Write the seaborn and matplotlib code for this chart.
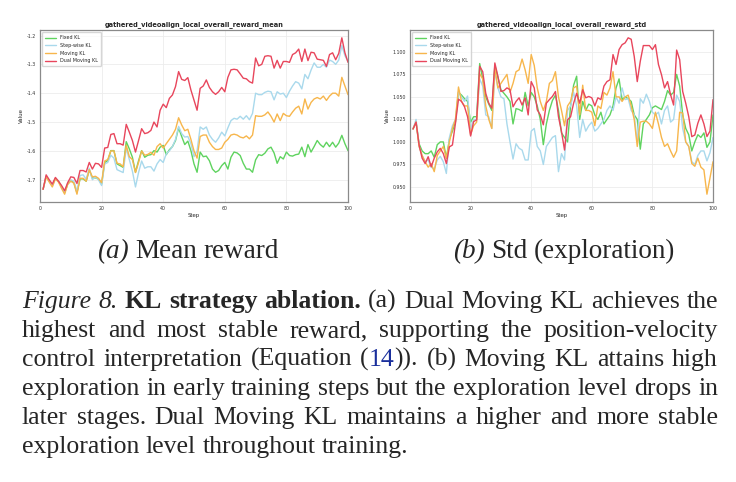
import os
import numpy as np
import pandas as pd
import matplotlib.pyplot as plt
import matplotlib.font_manager as fm
import seaborn as sns

sns.set_style("whitegrid")
plt.rcParams["axes.unicode_minus"] = False

# ---- data ----
steps = list(range(1, 101))
methods = ["Fixed KL", "Step-wise KL", "Moving KL", "Dual Moving KL"]
colors = ["#5fd35f", "#a9d9ec", "#f7b64c", "#e8465c"]

mean_fixed = [-1.733, -1.688, -1.705, -1.72, -1.695, -1.705, -1.725, -1.745, -1.715, -1.703,
              -1.71, -1.745, -1.697, -1.697, -1.705, -1.665, -1.695, -1.693, -1.698, -1.715,
              -1.64, -1.634, -1.599, -1.599, -1.645, -1.651, -1.657, -1.568, -1.593, -1.622,
              -1.674, -1.634, -1.599, -1.622, -1.615, -1.613, -1.599, -1.604, -1.587, -1.581,
              -1.613, -1.596, -1.585, -1.564, -1.52, -1.55, -1.578, -1.566, -1.599, -1.645,
              -1.674, -1.604, -1.62, -1.618, -1.634, -1.663, -1.674, -1.668, -1.651, -1.64,
              -1.663, -1.622, -1.604, -1.607, -1.616, -1.643, -1.663, -1.663, -1.674, -1.631,
              -1.613, -1.616, -1.608, -1.593, -1.587, -1.607, -1.643, -1.62, -1.628, -1.604,
              -1.616, -1.618, -1.613, -1.611, -1.587, -1.62, -1.578, -1.604, -1.585, -1.564,
              -1.578, -1.587, -1.57, -1.585, -1.57, -1.587, -1.573, -1.546, -1.575, -1.599]
mean_step = [-1.733, -1.688, -1.705, -1.72, -1.695, -1.705, -1.725, -1.745, -1.71, -1.70,
             -1.705, -1.74, -1.685, -1.683, -1.698, -1.66, -1.70, -1.69, -1.70, -1.72,
             -1.645, -1.64, -1.615, -1.625, -1.665, -1.67, -1.675, -1.59, -1.63, -1.67,
             -1.725, -1.675, -1.635, -1.66, -1.655, -1.655, -1.67, -1.645, -1.63, -1.64,
             -1.61, -1.60, -1.585, -1.56, -1.515, -1.54, -1.552, -1.55, -1.575, -1.62,
             -1.60, -1.517, -1.525, -1.517, -1.545, -1.56, -1.57, -1.555, -1.535, -1.548,
             -1.52, -1.495, -1.487, -1.49, -1.48, -1.49, -1.478, -1.492, -1.47, -1.40,
             -1.405, -1.405, -1.397, -1.393, -1.395, -1.423, -1.395, -1.403, -1.40, -1.415,
             -1.393, -1.375, -1.36, -1.365, -1.385, -1.335, -1.35, -1.32, -1.295, -1.31,
             -1.31, -1.30, -1.31, -1.285, -1.29, -1.30, -1.285, -1.235, -1.27, -1.29]
mean_moving = [-1.733, -1.69, -1.708, -1.725, -1.697, -1.708, -1.73, -1.75, -1.715, -1.705,
               -1.712, -1.75, -1.695, -1.695, -1.705, -1.665, -1.69, -1.688, -1.695, -1.71,
               -1.635, -1.63, -1.60, -1.60, -1.643, -1.645, -1.655, -1.58, -1.62, -1.63,
               -1.675, -1.64, -1.60, -1.615, -1.612, -1.605, -1.615, -1.585, -1.575, -1.59,
               -1.575, -1.56, -1.545, -1.525, -1.485, -1.51, -1.53, -1.525, -1.56, -1.60,
               -1.625, -1.55, -1.545, -1.545, -1.57, -1.585, -1.595, -1.595, -1.59, -1.57,
               -1.56, -1.545, -1.542, -1.545, -1.552, -1.555, -1.548, -1.558, -1.545, -1.478,
               -1.48, -1.48, -1.475, -1.465, -1.48, -1.50, -1.472, -1.495, -1.47, -1.478,
               -1.48, -1.465, -1.452, -1.445, -1.472, -1.42, -1.455, -1.432, -1.42, -1.415,
               -1.42, -1.41, -1.425, -1.41, -1.40, -1.40, -1.41, -1.345, -1.375, -1.405]
mean_dual = [-1.733, -1.683, -1.70, -1.715, -1.692, -1.705, -1.72, -1.738, -1.71, -1.69,
             -1.692, -1.713, -1.668, -1.668, -1.673, -1.64, -1.663, -1.643, -1.645, -1.657,
             -1.59, -1.588, -1.543, -1.54, -1.575, -1.575, -1.58, -1.508, -1.535, -1.564,
             -1.604, -1.564, -1.523, -1.54, -1.537, -1.529, -1.50, -1.517, -1.459, -1.438,
             -1.45, -1.418, -1.406, -1.377, -1.325, -1.352, -1.356, -1.346, -1.389, -1.424,
             -1.459, -1.383, -1.375, -1.354, -1.38, -1.395, -1.404, -1.395, -1.38, -1.395,
             -1.345, -1.319, -1.317, -1.319, -1.333, -1.348, -1.35, -1.36, -1.365, -1.278,
             -1.305, -1.30, -1.272, -1.27, -1.272, -1.313, -1.286, -1.313, -1.29, -1.29,
             -1.293, -1.266, -1.26, -1.247, -1.29, -1.247, -1.287, -1.258, -1.26, -1.282,
             -1.284, -1.286, -1.307, -1.266, -1.26, -1.284, -1.262, -1.208, -1.26, -1.293]

std_fixed = [1.0144, 1.022, 0.998, 0.990, 0.987, 0.987, 0.990, 0.983, 0.997, 1.000,
             1.000, 0.982, 1.003, 1.012, 1.022, 1.055, 1.052, 1.048, 1.045, 1.022,
             1.028, 1.028, 1.087, 1.070, 1.050, 1.042, 1.035, 1.085, 1.072, 1.058,
             1.054, 1.050, 1.045, 1.020, 1.037, 1.036, 1.034, 1.055, 1.040, 1.055,
             1.050, 1.040, 1.025, 0.997, 1.020, 1.035, 1.046, 1.052, 1.035, 1.010,
             1.005, 1.000, 1.040, 1.063, 1.073, 1.025, 1.045, 1.035, 1.042, 1.040,
             1.030, 1.025, 1.033, 1.020, 1.025, 1.030, 1.040, 1.060, 1.070, 1.047,
             1.050, 1.048, 1.045, 1.030, 1.025, 0.992, 1.020, 1.025, 1.030, 1.038,
             1.040, 1.038, 1.036, 1.045, 1.057, 1.052, 1.055, 1.075, 1.062, 1.030,
             1.015, 1.008, 0.990, 1.000, 1.008, 1.005, 1.010, 0.994, 1.000, 1.030]
std_step = [1.0144, 1.025, 0.995, 0.985, 0.978, 0.980, 0.972, 0.970, 0.980, 0.984,
            0.978, 0.965, 1.005, 1.018, 1.025, 1.055, 1.050, 1.045, 1.051, 1.015,
            1.025, 1.025, 1.070, 1.062, 1.030, 1.028, 1.015, 1.078, 1.060, 1.050,
            1.048, 1.020, 1.000, 0.981, 0.998, 0.993, 0.991, 0.980, 0.980, 1.012,
            1.015, 0.995, 0.990, 0.975, 0.995, 1.000, 1.005, 1.007, 0.967, 0.987,
            0.980, 1.035, 1.040, 1.055, 1.040, 1.005, 1.025, 1.012, 1.018, 1.022,
            1.012, 1.015, 1.020, 1.025, 1.035, 1.040, 1.035, 1.050, 1.043, 1.060,
            1.047, 1.048, 1.035, 1.030, 1.000, 1.048, 1.043, 1.053, 1.045, 1.033,
            1.030, 1.033, 1.020, 1.035, 1.040, 1.022, 1.025, 1.052, 1.045, 1.015,
            1.000, 0.995, 0.978, 0.975, 0.985, 0.990, 0.990, 0.979, 0.988, 1.005]
std_moving = [1.0144, 1.022, 0.995, 0.985, 0.978, 0.972, 0.976, 0.967, 0.985, 0.990,
              0.995, 0.982, 1.000, 1.015, 1.025, 1.061, 1.045, 1.040, 1.040, 1.008,
              1.018, 1.022, 1.076, 1.070, 1.040, 1.025, 1.015, 1.083, 1.060, 1.065,
              1.070, 1.075, 1.055, 1.065, 1.078, 1.080, 1.092, 1.080, 1.065, 1.097,
              1.085, 1.060, 1.045, 1.035, 1.045, 1.065, 1.068, 1.078, 1.050, 1.035,
              1.018, 1.040, 1.045, 1.060, 1.062, 1.030, 1.063, 1.035, 1.035, 1.033,
              1.018, 1.040, 1.037, 1.055, 1.052, 1.060, 1.078, 1.050, 1.050, 1.045,
              1.050, 1.052, 1.040, 1.025, 0.995, 1.022, 1.023, 1.023, 1.020, 1.015,
              1.033, 1.020, 1.005, 0.995, 0.998, 0.990, 0.983, 0.990, 1.033, 1.032,
              1.000, 0.995, 0.976, 0.973, 0.982, 0.972, 0.969, 0.942, 0.960, 0.978]
std_dual = [1.0144, 1.022, 0.9966, 0.982, 0.976, 0.9836, 0.9724, 0.982, 0.989, 0.9929,
            0.987, 0.976, 0.9945, 0.9966, 1.0208, 1.0475, 1.045, 1.039, 1.028, 1.0066,
            1.0226, 1.0245, 1.084, 1.078, 1.054, 1.043, 1.0375, 1.0877, 1.073, 1.056,
            1.057, 1.060, 1.058, 1.039, 1.045, 1.049, 1.041, 1.049, 1.030, 1.067,
            1.060, 1.0356, 1.030, 1.019, 1.043, 1.047, 1.0505, 1.056, 1.028, 1.0115,
            0.991, 1.0245, 1.028, 1.043, 1.054, 1.043, 1.058, 1.049, 1.0505, 1.049,
            1.040, 1.049, 1.047, 1.062, 1.067, 1.069, 1.097, 1.086, 1.1026, 1.108,
            1.110, 1.1156, 1.114, 1.095, 1.067, 1.0896, 1.107, 1.107, 1.107, 1.1026,
            1.108, 1.086, 1.0747, 1.060, 1.067, 1.0524, 1.041, 1.102, 1.0914, 1.056,
            1.043, 1.028, 1.0059, 1.0077, 1.0208, 1.030, 1.020, 1.006, 1.012, 1.047]

mean_title = "gathered_videoalign_local_overall_reward_mean"
std_title = "gathered_videoalign_local_overall_reward_std"

# register a Times-like serif straight from its files
SERIF = "DejaVu Serif"
sys_fonts = fm.findSystemFonts()
for prefix in ["Tinos", "LiberationSerif", "FreeSerif"]:
    group = [f for f in sys_fonts if os.path.basename(f).startswith(prefix)]
    if group:
        for f in group:
            fm.fontManager.addfont(f)
        SERIF = fm.FontProperties(fname=group[0]).get_name()
        break

W, H = 736, 482
fig = plt.figure(figsize=(W / 100, H / 100), dpi=100)
ax1 = fig.add_axes([40 / W, 1 - 202 / H, 308 / W, 172 / H])
ax2 = fig.add_axes([410 / W, 1 - 202 / H, 303 / W, 172 / H])


def draw(ax, series, title):
    df = pd.DataFrame({
        "Step": steps * len(methods),
        "Value": sum(series, []),
        "Method": np.repeat(methods, len(steps)),
    })
    sns.lineplot(data=df, x="Step", y="Value", hue="Method", hue_order=methods,
                 palette=dict(zip(methods, colors)), linewidth=1.0, ax=ax)
    ax.set_xlim(0, 100)
    ax.set_xticks([0, 20, 40, 60, 80, 100])
    ax.set_title(title, fontsize=4.8, fontweight="bold", pad=3)
    ax.set_xlabel("Step", fontsize=3.9, labelpad=1)
    ax.set_ylabel("Value", fontsize=3.9, labelpad=2)
    ax.tick_params(labelsize=3.4, length=1.5, pad=1.5, colors="#333333")
    ax.grid(color="#ececec", linewidth=0.6)
    for s in ax.spines.values():
        s.set_edgecolor("#8a8a8a")
        s.set_linewidth(0.9)
    h, l = ax.get_legend_handles_labels()
    ax.legend(h, l, loc="upper left", fontsize=3.5, frameon=True, handlelength=2.2,
              borderpad=0.6, labelspacing=0.55, edgecolor="#cccccc", fancybox=True)


draw(ax1, [mean_fixed, mean_step, mean_moving, mean_dual], mean_title)
draw(ax2, [std_fixed, std_step, std_moving, std_dual], std_title)

# ---- captions ----
FS = 18.5
SUB_FS = 19.5
STYLES = {
    "n": {},
    "i": {"style": "italic"},
    "b": {"weight": "bold"},
    "c": {"color": "#1a2f9c"},
}
renderer = fig.canvas.get_renderer()


def width(s, st, fs=FS):
    t = fig.text(0, 0, s, fontsize=fs, family=SERIF, **STYLES[st])
    w = t.get_window_extent(renderer).width
    t.remove()
    return w


def words(s, st="n"):
    return [[(w, st)] for w in s.split()]


def put_line(ws, y, x0=22, x1=718, justify=True, fs=FS):
    wid = [sum(width(p, st, fs) for p, st in w) for w in ws]
    space = width("a a", "n", fs) - 2 * width("a", "n", fs)
    gap = (x1 - x0 - sum(wid)) / (len(ws) - 1) if justify else space
    x = x0
    for w, ww in zip(ws, wid):
        xp = x
        for p, st in w:
            fig.text(xp / W, 1 - y / H, p, fontsize=fs, family=SERIF, va="baseline",
                     ha="left", **STYLES[st])
            xp += width(p, st, fs)
        x += ww + gap
    return x


def put_center(ws, y, xc, fs):
    wid = [sum(width(p, st, fs) for p, st in w) for w in ws]
    space = width("a a", "n", fs) - 2 * width("a", "n", fs)
    total = sum(wid) + space * (len(ws) - 1)
    put_line(ws, y, x0=xc - total / 2, justify=False, fs=fs)


put_center(words("(a)", "i") + words("Mean reward"), 258, 188, SUB_FS)
put_center(words("(b)", "i") + words("Std (exploration)"), 258, 564, SUB_FS)

lines = [
    words("Figure 8.", "i") + words("KL strategy ablation.", "b")
    + words("(a) Dual Moving KL achieves the"),
    words("highest and most stable reward, supporting the position-velocity"),
    words("control interpretation (Equation")
    + [[("(", "n"), ("14", "c"), (")).", "n")]] + words("(b) Moving KL attains high"),
    words("exploration in early training steps but the exploration level drops in"),
    words("later stages. Dual Moving KL maintains a higher and more stable"),
    words("exploration level throughout training."),
]
for i, ln in enumerate(lines):
    put_line(ln, 308 + 29 * i, justify=(i < len(lines) - 1))

fig.savefig("out.png", dpi=100)
